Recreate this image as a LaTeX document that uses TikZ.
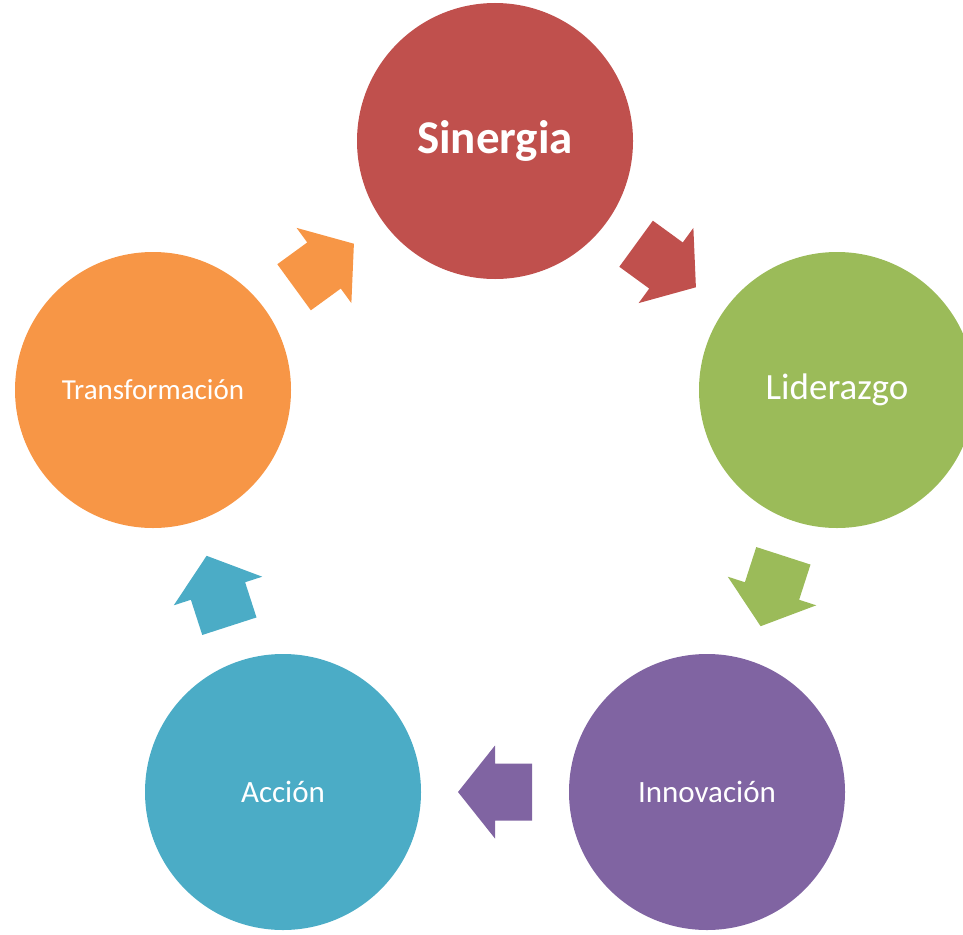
\documentclass[tikz,border=0pt]{standalone}
\usepackage{fontspec}
\setmainfont{Carlito}
\usetikzlibrary{calc}
\definecolor{cred}{HTML}{C0504D}
\definecolor{cgreen}{HTML}{9BBB59}
\definecolor{cpurple}{HTML}{8064A2}
\definecolor{cteal}{HTML}{4BACC6}
\definecolor{corange}{HTML}{F79646}
\newcommand\cyclearrow[3]{%
  \coordinate (m) at ($(#1.center)!0.5!(#2.center)$);
  \coordinate (hp) at ($(m)!37pt!(#2.center)$);
  \coordinate (tl) at ($(m)!-37pt!(#2.center)$);
  \fill[#3] ($(m)!46.5pt!90:(#2.center)$) -- (hp) -- ($(m)!46.5pt!-90:(#2.center)$)
    -- ($(m)!28.5pt!-90:(#2.center)$) -- ($(tl)!28.5pt!-90:(#2.center)$)
    -- ($(tl)!28.5pt!90:(#2.center)$) -- ($(m)!28.5pt!90:(#2.center)$) -- cycle;}
\begin{document}
\begin{tikzpicture}[x=1pt,y=-1pt,
  bubble/.style={circle,inner sep=0pt,minimum size=276pt,text=white,align=center}]
\useasboundingbox (0,0) rectangle (963,934);
\begin{scope}
\clip (0,0) rectangle (963,934);
\node[bubble,fill=cred,font=\fontsize{47}{50}\selectfont\bfseries] (sin) at (495,141) {Sinergia};
\node[bubble,fill=cgreen,font=\fontsize{37}{40}\selectfont] (lid) at (837,390) {Liderazgo};
\node[bubble,fill=cpurple,font=\fontsize{31}{34}\selectfont] (inn) at (707,792) {Innovación};
\node[bubble,fill=cteal,font=\fontsize{31}{34}\selectfont] (acc) at (283,792) {Acción};
\node[bubble,fill=corange,font=\fontsize{29}{32}\selectfont] (tra) at (153,390) {Transformación};
\cyclearrow{sin}{lid}{cred}
\cyclearrow{lid}{inn}{cgreen}
\cyclearrow{inn}{acc}{cpurple}
\cyclearrow{acc}{tra}{cteal}
\cyclearrow{tra}{sin}{corange}
\end{scope}
\end{tikzpicture}
\end{document}
